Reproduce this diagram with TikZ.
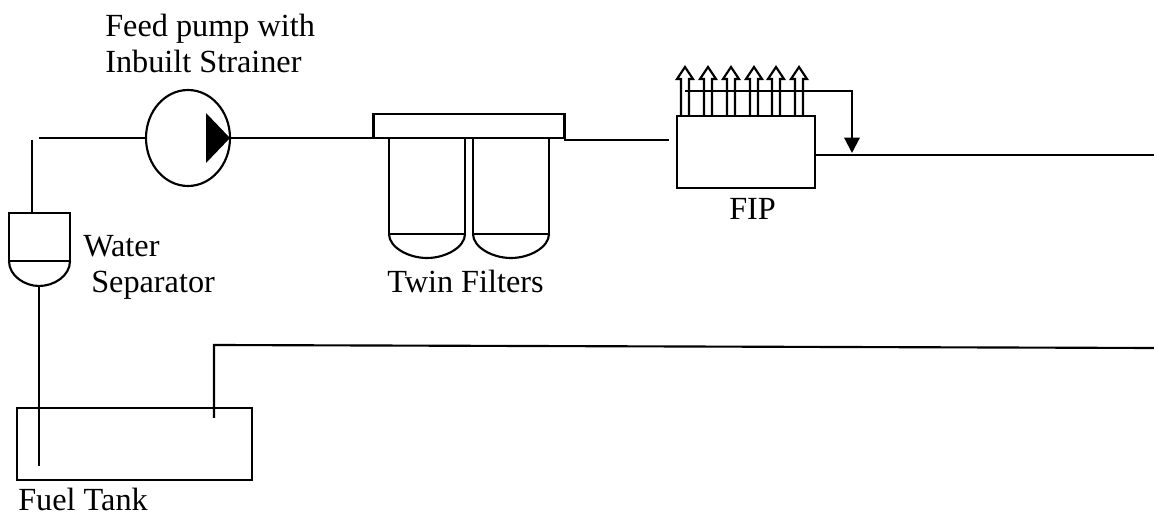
\documentclass[tikz,border=0pt]{standalone}
\usepackage{fontspec}
\setmainfont{Liberation Serif}
\usetikzlibrary{shapes.geometric,calc,arrows.meta}
\tikzset{
  ln/.style={line width=1.6pt,black},
  box/.style={ln,draw,rectangle,inner sep=0pt,outer sep=0pt,anchor=north west},
  lbl/.style={font=\fontsize{24.2pt}{28pt}\selectfont,anchor=base west,inner sep=0pt,text=black},
  tip/.style={-{Triangle[length=11.5pt,width=11.5pt]},ln},
}
\begin{document}
\begin{tikzpicture}[x=0.75pt,y=-0.75pt]
\useasboundingbox (0,0) rectangle (1154,516);
% text
\node[lbl] (t1) at (105,36.5) {Feed pump with};
\node[lbl] (t2) at (105,72.5) {Inbuilt Strainer};
\node[lbl] (t3) at (83,257) {Water};
\node[lbl] (t4) at (91,293) {Separator};
\node[lbl] (t5) at (387,293) {Twin Filters};
\node[lbl] (t6) at (729,220) {FIP};
\node[lbl] (t7) at (18,511) {Fuel Tank};
% pump
\node[ln,draw,ellipse,minimum width=63pt,minimum height=72pt,inner sep=0pt,outer sep=0pt] (pump) at (188,138) {};
\fill[black] (206,113) -- (pump.east) -- (206,163) -- cycle;
% separator
\node[box,minimum width=45.75pt,minimum height=36pt] (sep) at (9,213) {};
\draw[ln] (sep.south west) .. controls (9,276) and (25,286) .. (39,286) coordinate (sepb) .. controls (54,286) and (70,276) .. (sep.south east);
% filters
\node[box,minimum width=143.25pt,minimum height=18pt] (head) at (373.5,114) {};
\node[box,minimum width=57pt,minimum height=72pt] (f1) at (389,138) {};
\node[box,minimum width=57pt,minimum height=72pt] (f2) at (473,138) {};
\draw[ln] (f1.south west) .. controls (389,247) and (408,258) .. (427,258) .. controls (446,258) and (465,247) .. (f1.south east);
\draw[ln] (f2.south west) .. controls (473,247) and (492,258) .. (511,258) .. controls (530,258) and (549,247) .. (f2.south east);
% FIP
\node[box,minimum width=103.5pt,minimum height=54pt] (fip) at (677,116) {};
% tank
\node[box,minimum width=176.25pt,minimum height=54pt] (tank) at (17,408) {};
% injector outlets
\foreach \n/\x in {1/685,2/708,3/731,4/754,5/776,6/799}{
  \coordinate (o\n) at (\x,116);
  \draw[ln,line join=miter] (\x-4,116) -- (\x-4,79) -- (\x-8,79) -- (\x,67) -- (\x+8,79) -- (\x+4,79) -- (\x+4,116);
}
% connectors
\coordinate (c1) at (39,138);
\coordinate (c2) at (32,140);
\coordinate (c3) at (564,140);
\coordinate (c4) at (669,140);
\coordinate (c5) at (1154,155);
\coordinate (c6) at (39,466);
\coordinate (c7) at (214,418);
\coordinate (c8) at (214,345);
\coordinate (c9) at (1154,348);
\coordinate (c10) at (685,91);
\coordinate (c11) at (852,91);
\coordinate (c12) at (852,153);
\coordinate (c13) at (815,155);
\draw[ln] (c1) -- (pump.west);
\draw[ln] (pump.east) -- (head.south west);
\draw[ln] (c2) -- (c2 |- sep.north);
\draw[ln] (sepb) -- (c6);
\draw[ln] (c3) -- (c4);
\draw[ln] (c13) -- (c5);
\draw[ln] (c7) -- (c8) -- (c9);
\draw[tip] (c10) -- (c11) -- (c12);
\end{tikzpicture}
\end{document}
